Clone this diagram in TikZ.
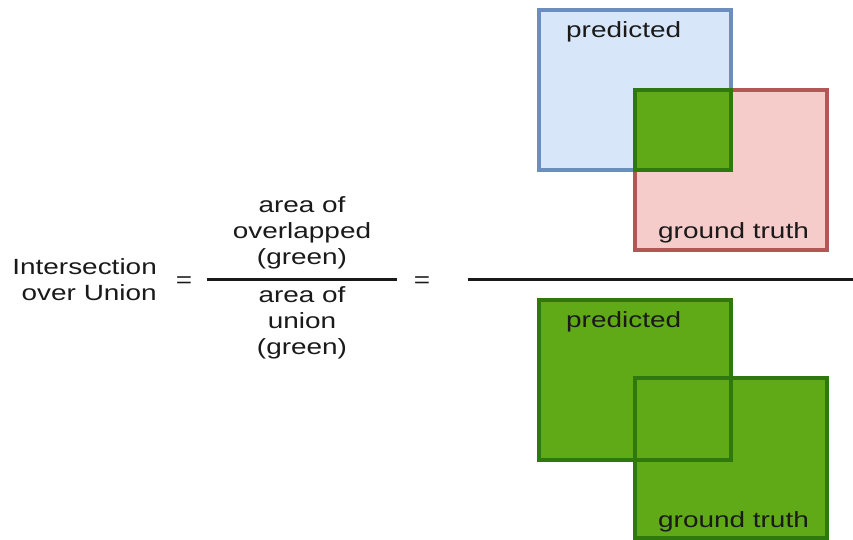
\documentclass[tikz,border=0pt]{standalone}
\usepackage{fontspec}
\setmainfont{Liberation Sans}[FakeStretch=1.27]
\usepackage{tikz}
\usetikzlibrary{
positioning,
calc
}
\definecolor{IOUBlue}{HTML}{6C8EBF}
\definecolor{IOUBlueBG}{HTML}{D8E6FA}
\definecolor{IOURed}{HTML}{B35656}
\definecolor{IOURedBG}{HTML}{F6CCCB}
\definecolor{IOUGreen}{HTML}{2E780E}
\definecolor{IOUGreenBG}{HTML}{60A917}
\definecolor{IOUText}{HTML}{1A1A1A}
\tikzset{
ioubox/.style={rectangle, inner sep=0pt, outer sep=0pt, line width=4pt,
  minimum width=192pt, minimum height=160pt},
ioupred/.style={ioubox, draw=IOUBlue, fill=IOUBlueBG},
iougt/.style={ioubox, draw=IOURed, fill=IOURedBG},
iouover/.style={ioubox, draw=IOUGreen, fill=IOUGreenBG,
  minimum width=96pt, minimum height=80pt},
iouunion/.style={ioubox, fill=IOUGreenBG},
iouedge/.style={draw=IOUGreen, line width=4pt},
ioutext/.style={inner sep=0pt, text=IOUText, font=\fontsize{22}{26}\selectfont},
ioulabel/.style={ioutext, anchor=base west},
ioubar/.style={line width=3pt, draw=IOUText}
}
\begin{document}
\begin{tikzpicture}[x=1pt, y=-1pt]
\useasboundingbox (0,0) rectangle (853,539);

% left side of the equation
\node[ioutext, align=right, anchor=north east] (iou) at (157,258) {Intersection\\over Union};
\node[ioutext] (eqa) at (184,282) {=};
\coordinate (fa) at (207,279);
\coordinate (fb) at (397,279);
\node[ioutext, align=center, anchor=south] (num) at ($(fa)!0.5!(fb)+(0,-10)$) {area of\\overlapped\\(green)};
\node[ioutext, align=center, anchor=north] (den) at ($(fa)!0.5!(fb)+(0,7)$) {area of\\union\\(green)};
\draw[ioubar] (fa) -- (fb);
\node[ioutext] (eqb) at (422,282) {=};

% top: overlap
\node[ioupred] (tp) at (635,90) {};
\node[iougt] (tg) at (731,170) {};
\node[iouover] (to) at (683,130) {};
\node[ioulabel] (tpl) at (566,37) {predicted};
\node[ioulabel] (tgl) at (658,238) {ground truth};

\coordinate (ra) at (468,279);
\coordinate (rb) at (853,279);
\draw[ioubar] (ra) -- (rb);

% bottom: union
\node[iouunion] (bp) at (635,380) {};
\node[iouunion] (bg) at (731,458) {};
\draw[iouedge] (bp.north west) rectangle (bp.south east);
\draw[iouedge] (bg.north west) rectangle (bg.south east);
\node[ioulabel] (bpl) at (566,327) {predicted};
\node[ioulabel] (bgl) at (658,527) {ground truth};
\end{tikzpicture}
\end{document}
